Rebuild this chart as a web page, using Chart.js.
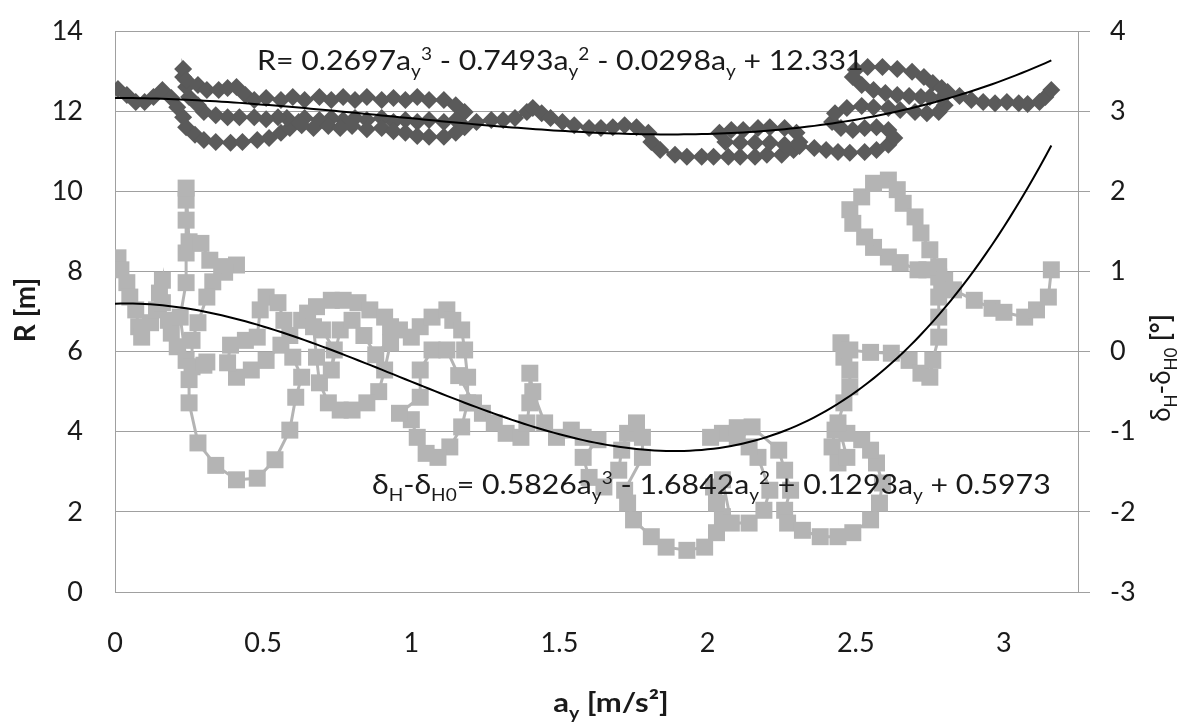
<!DOCTYPE html>
<html>
<head>
<meta charset="utf-8">
<script src="https://cdn.jsdelivr.net/npm/chart.js@4.4.1/dist/chart.umd.min.js"></script>
<style>
  html, body { margin: 0; padding: 0; background: #fff; }
  #wrap { width: 1178px; height: 725px; }
</style>
</head>
<body>
<div id="wrap"><canvas id="chart" width="1178" height="725"></canvas></div>
<script>
// turning radius R [m] against lateral acceleration a_y [m/s²]
const rAy = [
  0.01,0.04,0.07,0.10,0.13,0.16,0.19,0.21,0.23,0.24,
  0.27,0.30,0.34,0.39,0.43,0.48,0.52,0.56,0.59,0.62,
  0.58,0.55,0.51,0.47,0.42,0.38,0.34,0.30,0.28,0.25,
  0.24,0.23,0.23,0.24,0.28,0.31,0.35,0.38,0.41,0.44,
  0.47,0.51,0.56,0.60,0.64,0.69,0.73,0.77,0.81,0.85,
  0.90,0.94,0.98,1.02,1.06,1.11,1.15,1.18,1.15,1.11,
  1.06,1.02,0.98,0.94,0.90,0.85,0.81,0.77,0.73,0.69,
  0.64,0.63,0.67,0.72,0.76,0.80,0.85,0.90,0.94,0.98,
  1.02,1.06,1.11,1.15,1.18,1.22,1.27,1.31,1.35,1.39,
  1.41,1.44,1.47,1.51,1.55,1.60,1.64,1.68,1.72,1.76,
  1.80,1.81,1.84,1.89,1.93,1.98,2.02,2.07,2.11,2.16,
  2.20,2.25,2.29,2.31,2.30,2.26,2.21,2.17,2.12,2.08,
  2.04,2.06,2.11,2.16,2.21,2.26,2.31,2.36,2.40,2.44,
  2.48,2.53,2.57,2.61,2.63,2.61,2.57,2.53,2.49,2.45,
  2.42,2.43,2.47,2.52,2.56,2.61,2.65,2.70,2.74,2.78,
  2.80,2.79,2.75,2.72,2.68,2.64,2.60,2.56,2.52,2.49,
  2.50,2.54,2.59,2.64,2.69,2.73,2.76,2.79,2.81,2.85,
  2.89,2.93,2.97,3.01,3.05,3.08,3.12,3.14,3.16
];
const rVal = [
  12.55,12.40,12.23,12.23,12.35,12.53,12.33,12.10,11.85,11.60,
  11.41,11.28,11.23,11.21,11.23,11.28,11.33,11.46,11.58,11.73,
  11.83,11.85,11.80,11.85,11.85,11.85,11.90,11.98,12.15,12.35,
  12.60,12.85,13.05,12.78,12.65,12.53,12.53,12.58,12.60,12.40,
  12.28,12.33,12.28,12.35,12.28,12.35,12.28,12.35,12.28,12.35,
  12.28,12.33,12.28,12.35,12.28,12.28,12.15,11.98,11.78,11.73,
  11.78,11.73,11.78,11.73,11.83,11.78,11.83,11.78,11.83,11.78,
  11.83,11.65,11.58,11.63,11.58,11.63,11.55,11.58,11.50,11.46,
  11.38,11.36,11.36,11.46,11.60,11.73,11.78,11.78,11.83,11.98,
  12.08,11.95,11.83,11.73,11.65,11.58,11.58,11.60,11.65,11.60,
  11.46,11.23,11.03,10.91,10.86,10.86,10.86,10.86,10.86,10.86,
  10.91,10.91,11.03,11.23,11.46,11.58,11.60,11.58,11.53,11.53,
  11.46,11.23,11.21,11.21,11.21,11.16,11.13,11.08,11.03,10.98,
  10.96,10.98,11.03,11.16,11.33,11.53,11.60,11.58,11.53,11.58,
  11.73,11.95,12.08,12.13,12.10,12.08,12.03,11.98,11.95,11.98,
  12.15,12.33,12.35,12.35,12.38,12.40,12.45,12.53,12.65,12.85,
  13.03,13.10,13.10,13.05,12.98,12.85,12.70,12.58,12.48,12.38,
  12.28,12.23,12.20,12.23,12.20,12.18,12.23,12.35,12.53
];

// steering wheel angle offset δH-δH0 [°] against a_y
const dAy = [
  0.01,0.02,0.04,0.05,0.07,0.08,0.09,0.12,0.14,0.15,
  0.16,0.16,0.18,0.19,0.21,0.24,0.22,0.24,0.24,0.24,
  0.24,0.24,0.25,0.29,0.32,0.36,0.41,0.37,0.33,0.31,
  0.28,0.26,0.26,0.30,0.31,0.25,0.25,0.28,0.34,0.41,
  0.48,0.54,0.59,0.61,0.63,0.60,0.56,0.51,0.46,0.41,
  0.38,0.39,0.44,0.48,0.49,0.51,0.55,0.57,0.59,0.63,
  0.65,0.68,0.73,0.77,0.82,0.86,0.91,0.93,0.93,0.91,
  0.89,0.85,0.80,0.76,0.72,0.69,0.68,0.67,0.70,0.74,
  0.73,0.76,0.80,0.84,0.88,0.96,1.00,1.03,1.07,1.12,
  1.14,1.17,1.18,1.19,1.19,1.17,1.13,1.09,1.05,1.02,
  1.00,0.96,1.03,1.03,1.07,1.12,1.16,1.21,1.24,1.28,
  1.32,1.37,1.39,1.40,1.40,1.41,1.45,1.49,1.54,1.58,
  1.63,1.58,1.60,1.65,1.70,1.71,1.73,1.76,1.78,1.78,
  1.72,1.73,1.75,1.81,1.86,1.93,1.99,2.03,2.05,2.03,
  2.02,2.05,2.08,2.14,2.19,2.21,2.17,2.14,2.10,2.05,
  2.01,2.10,2.15,2.24,2.26,2.28,2.26,2.27,2.32,2.38,
  2.44,2.49,2.55,2.58,2.59,2.57,2.55,2.52,2.47,2.43,
  2.42,2.44,2.47,2.44,2.46,2.48,2.48,2.46,2.45,2.48,
  2.55,2.62,2.68,2.72,2.75,2.76,2.78,2.78,2.78,2.79,
  2.78,2.74,2.71,2.65,2.61,2.56,2.53,2.49,2.48,2.52,
  2.56,2.61,2.64,2.66,2.70,2.72,2.75,2.78,2.80,2.83,
  2.90,2.96,3.00,3.07,3.11,3.15,3.16
];
const dVal = [
  1.17,1.02,0.86,0.68,0.52,0.31,0.18,0.36,0.52,0.73,
  0.89,0.61,0.39,0.23,0.06,-0.11,0.43,0.86,1.23,1.64,
  1.89,2.04,1.37,1.35,1.14,1.06,1.08,0.99,0.87,0.68,
  0.36,0.14,-0.19,-0.17,-0.13,-0.35,-0.64,-1.14,-1.42,-1.60,
  -1.58,-1.35,-0.98,-0.57,-0.32,-0.07,0.08,-0.11,-0.23,-0.32,
  -0.14,0.08,0.14,0.18,0.52,0.68,0.61,0.39,0.20,0.39,
  0.48,0.56,0.64,0.64,0.61,0.52,0.43,0.31,0.11,-0.23,
  -0.50,-0.64,-0.73,-0.73,-0.64,-0.39,-0.07,0.31,0.27,0.02,
  -0.23,0.27,0.39,0.20,-0.04,0.27,0.18,0.31,0.43,0.52,
  0.39,0.27,0.02,-0.32,-0.64,-0.94,-1.19,-1.32,-1.27,-1.07,
  -0.85,-0.77,-0.57,-0.23,0.02,0.02,-0.30,-0.64,-0.77,-0.89,
  -1.02,-1.07,-0.89,-0.64,-0.27,-0.50,-0.89,-1.07,-0.98,-1.07,
  -1.10,-1.32,-1.57,-1.69,-1.48,-1.23,-1.02,-0.89,-1.07,-1.32,
  -1.73,-1.89,-2.10,-2.31,-2.44,-2.48,-2.44,-2.26,-2.06,-1.89,
  -1.69,-1.60,-2.14,-2.14,-1.98,-1.73,-1.32,-1.19,-1.07,-1.02,
  -1.07,-0.95,-0.94,-1.23,-1.48,-1.73,-1.98,-2.14,-2.23,-2.31,
  -2.31,-2.26,-2.10,-1.89,-1.64,-1.39,-1.23,-1.10,-1.02,-0.98,
  -1.19,-1.39,-1.32,-0.89,-0.64,-0.44,-0.23,-0.07,0.11,0.02,
  -0.01,-0.02,-0.11,-0.27,-0.32,-0.11,0.18,0.43,0.68,0.81,
  0.93,1.02,1.02,1.11,1.18,1.30,1.43,1.60,1.77,1.93,
  2.10,2.14,2.02,1.85,1.68,1.48,1.27,1.06,0.89,0.77,
  0.64,0.54,0.49,0.43,0.52,0.68,1.02
];

// cubic trendline coefficients (a3, a2, a1, a0)
const rCoef = [0.2697, -0.7493, -0.0298, 12.331];
const dCoef = [0.5826, -1.6842, 0.1293, 0.5973];
const trendEnd = 3.16;

const xTicks = [0, 0.5, 1, 1.5, 2, 2.5, 3];
const rTicks = [0, 2, 4, 6, 8, 10, 12, 14];
const dTicks = [-3, -2, -1, 0, 1, 2, 3, 4];

const FONT = 'Lato, "Open Sans", sans-serif';
const INK = '#1a1a1a';
const GRID = '#a0a0a0';

const poly = (c, x) => ((c[0] * x + c[1]) * x + c[2]) * x + c[3];
const trend = c => {
  const pts = [];
  for (let i = 0; i <= 158; i++) {
    const x = Math.min(i * 0.02, trendEnd);
    pts.push({ x, y: poly(c, x) });
  }
  return pts;
};
const pairs = (xs, ys) => xs.map((x, i) => ({ x, y: ys[i] }));

// equation label parts: [text, 'sub'|'sup'|'', bold]
const sgn = v => (v < 0 ? ' - ' : ' + ');
const eqParts = (lhs, c) => [
  ...lhs,
  [`${c[0]}a`], ['y', 'sub'], ['3', 'sup'],
  [`${sgn(c[1])}${Math.abs(c[1])}a`], ['y', 'sub'], ['2', 'sup'],
  [`${sgn(c[2])}${Math.abs(c[2])}a`], ['y', 'sub'],
  [`${sgn(c[3])}${Math.abs(c[3])}`]
];
const rEq = eqParts([['R= ']], rCoef);
const dEq = eqParts([['δ'], ['H', 'sub'], ['-δ'], ['H0', 'sub'], ['= ']], dCoef);
const xTitle = [['a', '', true], ['y', 'sub', true], [' [m/s²]', '', true]];
const rTitle = [['R [m]', '', true]];
const dTitle = [['δ'], ['H', 'sub'], ['-δ'], ['H0', 'sub'], [' [°]', '', true]];

function drawRich(ctx, parts, o) {
  const fontOf = p => `${p[2] ? 'bold ' : ''}${p[1] ? Math.round(o.size * 0.64) : o.size}px ${FONT}`;
  ctx.save();
  ctx.translate(o.x, o.y);
  if (o.rot) ctx.rotate(o.rot);
  ctx.scale(o.sx || 1, 1);
  ctx.fillStyle = INK;
  ctx.textAlign = 'left';
  ctx.textBaseline = 'alphabetic';
  let w = 0;
  parts.forEach(p => { ctx.font = fontOf(p); w += ctx.measureText(p[0]).width; });
  let x = o.center ? -w / 2 : 0;
  parts.forEach(p => {
    ctx.font = fontOf(p);
    const dy = p[1] === 'sub' ? o.size * 0.27 : p[1] === 'sup' ? -o.size * 0.36 : 0;
    ctx.fillText(p[0], x, dy);
    x += ctx.measureText(p[0]).width;
  });
  ctx.restore();
}

const labelsPlugin = {
  id: 'labels',
  afterDraw(chart) {
    const ctx = chart.ctx;
    drawRich(ctx, rEq, { x: 257, y: 70, size: 27, sx: 1.12 });
    drawRich(ctx, dEq, { x: 372, y: 494, size: 27, sx: 1.12 });
    drawRich(ctx, xTitle, { x: 611, y: 712, size: 27, sx: 1.15, center: true });
    drawRich(ctx, rTitle, { x: 35, y: 310, size: 28, rot: -Math.PI / 2, center: true });
    drawRich(ctx, dTitle, { x: 1170, y: 368, size: 26, rot: -Math.PI / 2, center: true });
  }
};

const tickFont = { family: FONT, size: 27 };
const tickText = v => String(v);
const fixTicks = list => scale => { scale.ticks = list.map(v => ({ value: v })); };

new Chart(document.getElementById('chart'), {
  type: 'scatter',
  data: {
    datasets: [
      {
        label: 'R trend',
        data: trend(rCoef),
        yAxisID: 'y',
        showLine: true,
        borderColor: '#000',
        borderWidth: 2,
        pointRadius: 0,
        order: 0
      },
      {
        label: 'δ trend',
        data: trend(dCoef),
        yAxisID: 'y2',
        showLine: true,
        borderColor: '#000',
        borderWidth: 2,
        pointRadius: 0,
        order: 0
      },
      {
        label: 'R',
        data: pairs(rAy, rVal),
        yAxisID: 'y',
        showLine: true,
        borderColor: '#5a5a5a',
        borderWidth: 3,
        pointStyle: 'rectRot',
        pointRadius: 9,
        pointBackgroundColor: '#5a5a5a',
        pointBorderWidth: 0,
        order: 1
      },
      {
        label: 'δH-δH0',
        data: pairs(dAy, dVal),
        yAxisID: 'y2',
        showLine: true,
        borderColor: '#b4b4b4',
        borderWidth: 3,
        pointStyle: 'rect',
        pointRadius: 12,
        pointBackgroundColor: '#b4b4b4',
        pointBorderWidth: 0,
        order: 2
      }
    ]
  },
  options: {
    responsive: false,
    animation: false,
    devicePixelRatio: 1,
    layout: { padding: { top: 31, left: 0, right: 0, bottom: 0 } },
    plugins: {
      legend: { display: false },
      tooltip: { enabled: false }
    },
    scales: {
      x: {
        type: 'linear',
        position: 'bottom',
        min: 0,
        max: 3.25,
        grid: { display: false },
        border: { color: GRID, width: 1 },
        ticks: { font: tickFont, color: INK, padding: 27, callback: tickText },
        afterBuildTicks: fixTicks(xTicks),
        afterFit(s) { s.height = 133; s.paddingLeft = 0; s.paddingRight = 0; }
      },
      y: {
        position: 'left',
        min: 0,
        max: 14,
        grid: { color: GRID, drawTicks: false },
        border: { color: GRID, width: 1 },
        ticks: { font: tickFont, color: INK, padding: 32, callback: tickText },
        afterBuildTicks: fixTicks(rTicks),
        afterFit(s) { s.width = 115; s.paddingTop = 0; s.paddingBottom = 0; }
      },
      y2: {
        position: 'right',
        min: -3,
        max: 4,
        grid: { drawOnChartArea: false, drawTicks: true, tickLength: 12, color: GRID },
        border: { color: GRID, width: 1 },
        ticks: { font: tickFont, color: INK, padding: 20, callback: tickText },
        afterBuildTicks: fixTicks(dTicks),
        afterFit(s) { s.width = 100; s.paddingTop = 0; s.paddingBottom = 0; }
      }
    }
  },
  plugins: [labelsPlugin]
});
</script>
</body>
</html>
